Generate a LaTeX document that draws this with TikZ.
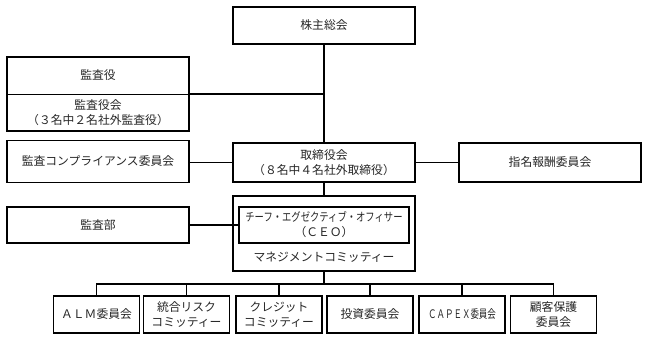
\documentclass[tikz,border=0pt]{standalone}
\usepackage{fontspec}
\setmainfont{Noto Sans CJK JP}
\begin{document}
\begin{tikzpicture}[x=1pt,y=-1pt,
  every node/.style={font=\fontsize{11.8}{15}\selectfont, text=black!85, inner sep=0pt, align=center},
  box/.style={draw=black, line width=1.7pt, minimum height=37pt},
  lbox/.style={box, minimum width=182pt},
  sbox/.style={box, minimum width=86pt},
  conn/.style={draw=black, line width=1.2pt},
  thinline/.style={draw=black, line width=1pt}]
\useasboundingbox (0,0) rectangle (648,340);
% top
\node[lbox] (kabu) at (324,25.5) {株主総会};
% kansayaku
\node[lbox, minimum height=74pt] (kansa) at (98,94) {};
\node (kansaA) at (98,75.5) {監査役};
\node (kansaB) at (98,112.5) {監査役会\\（３名中２名社外監査役）};
\draw[thinline] (kansa.west) -- (kansa.east);
% board row
\node[lbox, minimum height=39pt] (board) at (324,162.5) {取締役会\\（８名中４名社外取締役）};
\node[lbox, minimum height=42pt] (comp) at (98,161.5) {監査コンプライアンス委員会};
\node[lbox, minimum height=39pt] (nom) at (550,162.5) {指名報酬委員会};
% management
\node[draw=black, line width=1.2pt, minimum width=182pt, minimum height=75pt] (mgmt) at (324,233.5) {};
\node[box, minimum width=170pt, minimum height=36pt] (ceo) at (324,225) {\scalebox{0.79}[1]{チーフ・エグゼクティブ・オフィサー}\\（ＣＥＯ）};
\node (mgmtlabel) at (324,257) {マネジメントコミッティー};
\node[lbox, minimum height=36pt] (audit) at (98,225) {監査部};
% bottom committees
\node[sbox] (c1) at (96.5,314.5) {ＡＬＭ委員会};
\node[sbox] (c2) at (186.5,314.5) {統合リスク\\コミッティー};
\node[sbox] (c3) at (279,314.5) {クレジット\\コミッティー};
\node[sbox] (c4) at (370,314.5) {投資委員会};
\node[sbox] (c5) at (462,314.5) {\scalebox{0.72}[1]{ＣＡＰＥＸ委員会}};
\node[sbox] (c6) at (553.5,314.5) {顧客保護\\委員会};
\coordinate (bar) at (324,284);
% connectors
\draw[conn] (kabu.south) -- (board.north);
\draw[conn] (kansa.east) -- (kansa.east -| kabu.south);
\draw[conn] (comp.east |- board.west) -- (board.west);
\draw[conn] (board.east) -- (nom.west);
\draw[conn] (board.south) -- (mgmt.north);
\draw[conn] (audit.east) -- (ceo.west);
\draw[conn] (mgmt.south) -- (bar);
\draw[conn] (c1.north) -- (c1.north |- bar) -- (c6.north |- bar) -- (c6.north);
\foreach \n in {c2,c3,c4,c5} {\draw[conn] (\n.north |- bar) -- (\n.north);}
\end{tikzpicture}
\end{document}
